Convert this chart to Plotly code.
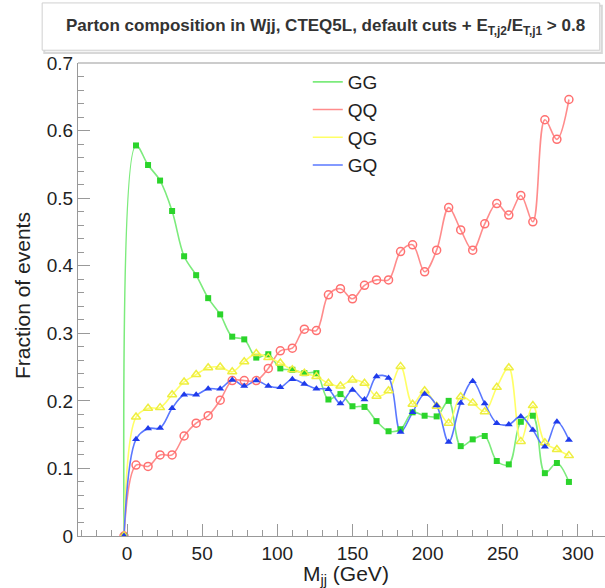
import plotly.graph_objects as go

# ---- data ----
mjj = [-2 + 8 * i for i in range(38)]

gg = [0.0, 0.578, 0.549, 0.526, 0.481, 0.414, 0.386, 0.352, 0.328, 0.295,
      0.291, 0.264, 0.269, 0.248, 0.246, 0.241, 0.241, 0.202, 0.210, 0.192,
      0.191, 0.170, 0.155, 0.158, 0.183, 0.178, 0.177, 0.200, 0.133, 0.143,
      0.148, 0.111, 0.106, 0.169, 0.178, 0.093, 0.108, 0.080]

qq = [0.0, 0.105, 0.103, 0.120, 0.120, 0.148, 0.167, 0.178, 0.201, 0.230,
      0.230, 0.230, 0.248, 0.274, 0.278, 0.306, 0.304, 0.357, 0.366, 0.351,
      0.371, 0.379, 0.379, 0.421, 0.431, 0.391, 0.423, 0.486, 0.453, 0.423,
      0.462, 0.492, 0.475, 0.504, 0.465, 0.616, 0.587, 0.646]

qg = [0.0, 0.176, 0.189, 0.190, 0.209, 0.228, 0.239, 0.249, 0.250, 0.243,
      0.258, 0.270, 0.264, 0.256, 0.246, 0.241, 0.236, 0.226, 0.222, 0.231,
      0.226, 0.207, 0.215, 0.251, 0.195, 0.215, 0.192, 0.167, 0.206, 0.197,
      0.184, 0.220, 0.249, 0.140, 0.193, 0.138, 0.128, 0.119]

gq = [0.0, 0.143, 0.159, 0.160, 0.189, 0.209, 0.209, 0.218, 0.218, 0.231,
      0.222, 0.230, 0.222, 0.220, 0.232, 0.225, 0.218, 0.217, 0.196, 0.216,
      0.202, 0.236, 0.234, 0.154, 0.183, 0.210, 0.193, 0.139, 0.197, 0.229,
      0.196, 0.167, 0.165, 0.177, 0.157, 0.132, 0.169, 0.142]

names = ["GG", "QQ", "QG", "GQ"]
title_text = ("Parton composition in Wjj, CTEQ5L, default cuts + "
              "E<sub>T,j2</sub>/E<sub>T,j1</sub> > 0.8")
x_title = "M<sub>jj</sub> (GeV)"
y_title = "Fraction of events"

# ---- styles ----
styles = {
    "GG": dict(line="#7CEB7C", marker=dict(symbol="square", size=6, color="#2BD42B")),
    "QQ": dict(line="#FF8C8C", marker=dict(symbol="circle-open", size=8, color="#FF7070",
                                          line=dict(width=1.5, color="#FF7070"))),
    "QG": dict(line="#FFFF66", marker=dict(symbol="triangle-up-open", size=8, color="#EEEE40",
                                          line=dict(width=1.5, color="#EEEE40"))),
    "GQ": dict(line="#5A78FF", marker=dict(symbol="triangle-up", size=7, color="#1F3BEB")),
}
series = {"GG": gg, "QQ": qq, "QG": qg, "GQ": gq}

fig = go.Figure()
for n in names:
    fig.add_trace(go.Scatter(x=mjj, y=series[n], mode="lines", name=n,
                             line=dict(color=styles[n]["line"], width=1.6,
                                       shape="spline", smoothing=1.0)))
for n in names:
    fig.add_trace(go.Scatter(x=mjj, y=series[n], mode="markers", showlegend=False,
                             marker=styles[n]["marker"], hoverinfo="skip"))

font_fam = "Liberation Sans, Arial, Helvetica, sans-serif"
axis_common = dict(showgrid=False, zeroline=False, showline=True, linecolor="#999",
                   linewidth=1, ticks="inside", tickcolor="#999", ticklen=12,
                   tickfont=dict(family=font_fam, size=19, color="#222"),
                   minor=dict(ticks="inside", ticklen=6, tickcolor="#999"))

fig.update_layout(
    width=605, height=588,
    margin=dict(l=78, r=0, t=63, b=52),
    paper_bgcolor="white", plot_bgcolor="white",
    xaxis=dict(range=[-32.6, 318], tickvals=[0, 50, 100, 150, 200, 250, 300],
               minor_dtick=10, mirror=False, ticklabelstandoff=0, **axis_common),
    yaxis=dict(range=[0, 0.7], dtick=0.1, minor_dtick=0.02, **axis_common),
    legend=dict(x=0.436, y=1.0, xanchor="left", yanchor="top",
                bgcolor="rgba(0,0,0,0)", font=dict(family=font_fam, size=19, color="#222"),
                tracegroupgap=0, itemwidth=30),
    showlegend=True,
)

# top frame line
fig.add_shape(type="line", xref="paper", yref="paper", x0=0, x1=1, y0=1, y1=1,
              line=dict(color="#999", width=1))
# title box with shadow
fig.add_shape(type="rect", xref="paper", yref="paper", x0=-0.064, x1=0.994,
              y0=1.021, y1=1.121, line=dict(color="#d8d8d8", width=2), fillcolor="#f4f4f4")
fig.add_shape(type="rect", xref="paper", yref="paper", x0=-0.068, x1=0.99,
              y0=1.027, y1=1.127, line=dict(color="#d0d0d0", width=1), fillcolor="white")
fig.add_annotation(text="<b>" + title_text + "</b>", xref="paper", yref="paper",
                   x=0.469, y=1.076, xanchor="center", yanchor="middle", showarrow=False,
                   font=dict(family=font_fam, size=17, color="#333"))
fig.add_annotation(text=x_title, xref="paper", yref="paper", x=0.509, y=-0.083,
                   xanchor="center", yanchor="middle", showarrow=False,
                   font=dict(family=font_fam, size=21, color="#222"))
fig.add_annotation(text=y_title, xref="paper", yref="paper", x=(22 - 78) / 527, y=(536 - 296) / 473,
                   xanchor="center", yanchor="middle", showarrow=False, textangle=-90,
                   font=dict(family=font_fam, size=21, color="#222"))

fig.write_html("out.html")
